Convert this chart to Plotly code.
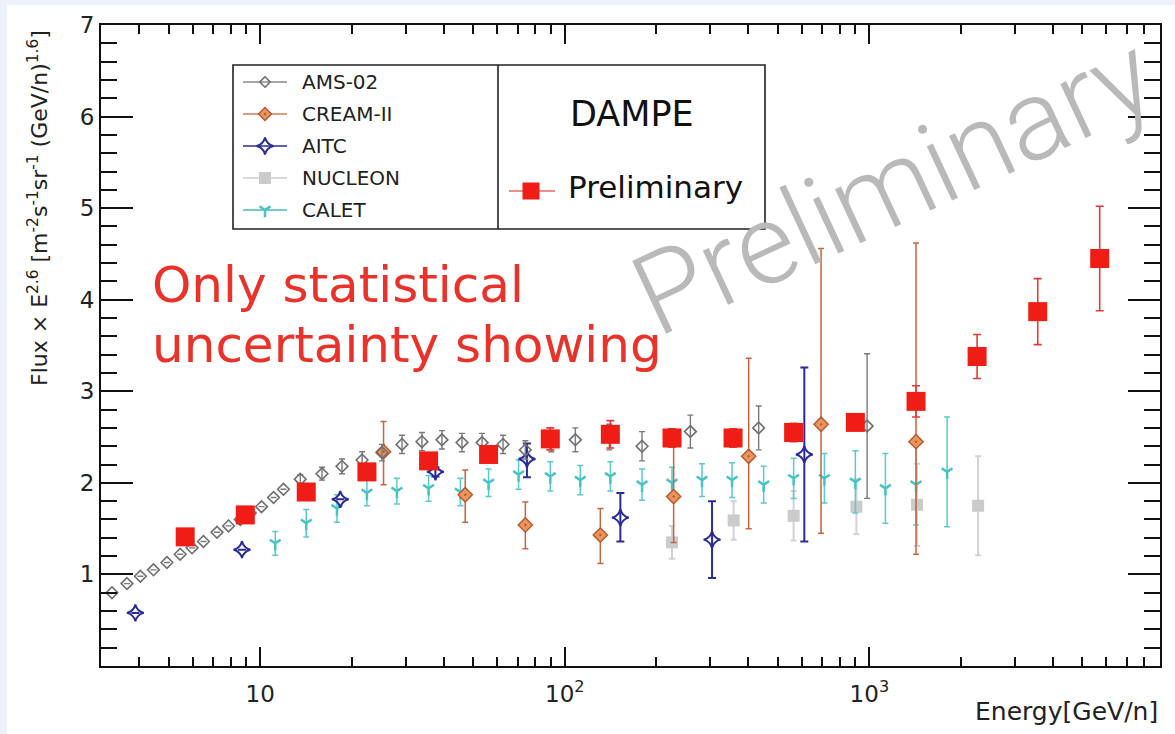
import math
import plotly.graph_objects as go

# ---------------- data ----------------
ams_e = [3.26, 3.65, 4.04, 4.46, 4.94, 5.46, 5.97, 6.51, 7.21, 7.87, 8.60, 9.27, 10.1, 11.06,
         11.92, 13.53, 15.95, 18.55, 21.6, 25.1, 29.2, 33.96, 39.5, 45.96, 53.5, 62.7, 74.2,
         90.3, 108.3, 140.0, 179.3, 258.4, 433.0, 983.0]
ams_f = [0.80, 0.90, 0.98, 1.05, 1.13, 1.22, 1.29, 1.36, 1.46, 1.53, 1.60, 1.67, 1.74, 1.84,
         1.93, 2.04, 2.10, 2.18, 2.25, 2.33, 2.42, 2.45, 2.47, 2.44, 2.44, 2.42, 2.36,
         2.45, 2.47, 2.50, 2.40, 2.56, 2.60, 2.62]
# None = error bar hidden inside the marker in the reference
ams_err = [None, None, None, None, None, None, None, None, None, None, None, None, None, None,
           None, 0.05, 0.07, 0.08, 0.09, 0.09, 0.10, 0.10, 0.10, 0.10, 0.10, 0.10, 0.10,
           0.11, 0.13, 0.14, 0.16, 0.18, 0.24, 0.79]

cream_e = [25.4, 47.1, 74.2, 130.8, 227.7, 401.6, 694.0, 1423.0]
cream_f = [2.34, 1.87, 1.54, 1.43, 1.85, 2.29, 2.64, 2.45]
cream_up = [0.33, 0.27, 0.25, 0.29, 0.55, 1.07, 1.92, 2.17]
cream_dn = [0.36, 0.30, 0.26, 0.31, 0.50, 0.79, 1.19, 1.23]

aitc_e = [3.89, 8.71, 18.31, 37.6, 75.1, 152.2, 304.4, 611.5]
aitc_f = [0.58, 1.27, 1.82, 2.12, 2.26, 1.62, 1.38, 2.31]
aitc_up = [None, None, None, 0.05, 0.17, 0.27, 0.42, 0.95]
aitc_dn = [None, None, None, 0.05, 0.20, 0.26, 0.42, 0.95]

nuc_e = [224.9, 358.4, 564.0, 906.5, 1434.0, 2275.0]
nuc_f = [1.35, 1.59, 1.64, 1.74, 1.76, 1.75]
nuc_err = [0.18, 0.21, 0.27, 0.30, 0.45, 0.54]

calet_e = [11.2, 14.16, 17.86, 22.4, 28.1, 35.7, 45.4, 56.2, 70.5, 89.6, 112.4, 141.1,
           179.3, 224.9, 282.2, 354.1, 449.7, 564.0, 711.7, 899.5, 1129.0, 1423.0, 1800.0]
calet_f = [1.34, 1.56, 1.72, 1.89, 1.91, 1.94, 1.90, 2.00, 2.09, 2.07, 2.03, 2.07,
           1.98, 2.00, 2.03, 2.03, 1.98, 2.05, 2.05, 2.01, 1.94, 1.98, 2.12]
calet_err = [0.13, 0.15, 0.15, 0.14, 0.14, 0.14, 0.15, 0.15, 0.16, 0.16, 0.16, 0.16,
             0.17, 0.17, 0.18, 0.19, 0.20, 0.22, 0.27, 0.34, 0.38, 0.44, 0.60]

dampe_e = [5.67, 8.93, 14.16, 22.4, 35.7, 56.2, 89.6, 141.1, 224.9, 356.8, 564.0, 899.5,
           1423.0, 2258.0, 3571.0, 5705.0]
dampe_f = [1.41, 1.65, 1.90, 2.12, 2.24, 2.31, 2.48, 2.53, 2.49, 2.49, 2.55, 2.66,
           2.89, 3.38, 3.87, 4.45]
dampe_err = [0.01, 0.01, 0.02, 0.03, 0.04, 0.05, 0.12, 0.15, 0.10, 0.10, 0.10, 0.08,
             0.17, 0.24, 0.36, 0.57]

x_major = [10, 100, 1000]
x_major_text = ["10", "10<sup>2</sup>", "10<sup>3</sup>"]
x_minor = [3, 4, 5, 6, 7, 8, 9, 20, 30, 40, 50, 60, 70, 80, 90,
           200, 300, 400, 500, 600, 700, 800, 900, 2000, 3000, 4000, 5000, 6000, 7000, 8000, 9000]
y_major = [1, 2, 3, 4, 5, 6, 7]

legend_names = ["AMS-02", "CREAM-II", "AITC", "NUCLEON", "CALET"]

# ---------------- layout geometry (pixels) ----------------
W, H = 1175, 734
L, R, T, B = 101, 1160, 25, 666


def px(x):
    return (x - L) / (R - L)


def py(y):
    return (B - y) / (B - T)


FONT = "DejaVu Sans"

styles = {
    "AMS-02": dict(symbol="diamond-open", size=9, color="#6f6f6f", lw=1.6,
                   ecolor="#7a7a7a", eth=1.4, ew=3, line="#8a8a8a", lsize=8),
    "CREAM-II": dict(symbol="diamond-dot", size=11, color="#e8955e", lw=1.4, lcolor="#b9562c",
                     ecolor="#c8653c", eth=1.5, ew=3, line="#d27b55", lsize=10),
    "AITC": dict(symbol="star-diamond-open", size=12, color="#2b2b98", lw=2,
                 ecolor="#2b2b98", eth=2, ew=4, line="#2b2b98", lsize=12),
    "NUCLEON": dict(symbol="square", size=12, color="#cbcbcb", lw=0,
                    ecolor="#d2d2d2", eth=2, ew=3, line="#cfcfcf", lsize=12),
    "CALET": dict(symbol="y-down-open", size=9, color="#46c4c4", lw=2.5,
                  ecolor="#5ccaca", eth=1.5, ew=3, line="#46b8b8", lsize=9),
}

fig = go.Figure()


def add_series(name, xs, ys, up, dn):
    s = styles[name]
    mk = dict(symbol=s["symbol"], size=s["size"], color=s["color"],
              line=dict(width=s["lw"], color=s.get("lcolor", s["color"])))
    fig.add_trace(go.Scatter(
        x=xs, y=ys, mode="markers", name=name, marker=mk,
        error_y=dict(type="data", symmetric=False, array=up, arrayminus=dn,
                     color=s["ecolor"], thickness=s["eth"], width=s["ew"]),
        showlegend=False))


add_series("NUCLEON", nuc_e, nuc_f, nuc_err, nuc_err)
add_series("CALET", calet_e, calet_f, calet_err, calet_err)
add_series("CREAM-II", cream_e, cream_f, cream_up, cream_dn)
add_series("AITC", aitc_e, aitc_f, aitc_up, aitc_dn)
add_series("AMS-02", ams_e, ams_f, ams_err, ams_err)

fig.add_trace(go.Scatter(
    x=dampe_e, y=dampe_f, mode="markers", name="DAMPE",
    marker=dict(symbol="square", size=19, color="#f01c16", line=dict(width=0)),
    error_y=dict(type="data", array=dampe_err, color="#e23a36", thickness=1.6, width=4),
    showlegend=False))

# ---------------- legend box (drawn on a pixel overlay axis) ----------------
leg_left, leg_right, leg_top, leg_bottom, leg_div = 233, 765, 65, 229, 498
leg_rows = [82, 114, 146, 178, 210]
for name, yc in zip(legend_names, leg_rows):
    s = styles[name]
    fig.add_trace(go.Scatter(x=[243, 287], y=[yc, yc], mode="lines", xaxis="x2", yaxis="y2",
                             line=dict(color=s["line"], width=1.5), showlegend=False,
                             hoverinfo="skip"))
    fig.add_trace(go.Scatter(x=[265], y=[yc], mode="markers", xaxis="x2", yaxis="y2",
                             marker=dict(symbol=s["symbol"], size=s["lsize"], color=s["color"],
                                         line=dict(width=s["lw"], color=s.get("lcolor", s["color"]))),
                             showlegend=False, hoverinfo="skip"))
fig.add_trace(go.Scatter(x=[509, 555], y=[191, 191], mode="lines", xaxis="x2", yaxis="y2",
                         line=dict(color="#e46a66", width=1.5), showlegend=False, hoverinfo="skip"))
fig.add_trace(go.Scatter(x=[531], y=[191], mode="markers", xaxis="x2", yaxis="y2",
                         marker=dict(symbol="square", size=17, color="#f01c16"),
                         showlegend=False, hoverinfo="skip"))

shapes = [
    dict(type="rect", xref="paper", yref="paper", x0=px(7), x1=px(W), y0=py(H), y1=py(5),
         fillcolor="white", line=dict(width=0), layer="below"),
    dict(type="rect", xref="x2", yref="y2", x0=leg_left, x1=leg_right, y0=leg_top, y1=leg_bottom,
         line=dict(color="#222", width=1.6), fillcolor="rgba(0,0,0,0)"),
    dict(type="line", xref="x2", yref="y2", x0=leg_div, x1=leg_div, y0=leg_top, y1=leg_bottom,
         line=dict(color="#222", width=1.6)),
]

annotations = []
for name, yc in zip(legend_names, leg_rows):
    annotations.append(dict(text=name, xref="paper", yref="paper", x=px(300), y=py(yc),
                            xanchor="left", yanchor="middle", showarrow=False,
                            font=dict(family=FONT, size=20, color="#222")))
annotations += [
    dict(text="DAMPE", xref="paper", yref="paper", x=px(632), y=py(114), xanchor="center",
         yanchor="middle", showarrow=False, font=dict(family=FONT, size=35, color="#111")),
    dict(text="Preliminary", xref="paper", yref="paper", x=px(566), y=py(187), xanchor="left",
         yanchor="middle", showarrow=False, font=dict(family=FONT, size=31, color="#111")),
    dict(text="Only statistical", xref="paper", yref="paper", x=px(150), y=py(285),
         xanchor="left", yanchor="middle", showarrow=False,
         font=dict(family=FONT, size=50, color="#e8322a")),
    dict(text="uncertainty showing", xref="paper", yref="paper", x=px(150), y=py(345),
         xanchor="left", yanchor="middle", showarrow=False,
         font=dict(family=FONT, size=50, color="#e8322a")),
    dict(text="Preliminary", xref="paper", yref="paper", x=px(893), y=py(186),
         xanchor="center", yanchor="middle", textangle=-25, showarrow=False,
         font=dict(family="Roboto", size=113, color="#b9b9b9", weight=300)),
    dict(text="Flux × E<sup>2.6</sup> [m<sup>-2</sup>s<sup>-1</sup>sr<sup>-1</sup> (GeV/n)<sup>1.6</sup>]",
         xref="paper", yref="paper", x=px(38), y=py(208), xanchor="center", yanchor="middle",
         textangle=-90, showarrow=False, font=dict(family=FONT, size=22, color="#222")),
    dict(text="Energy[GeV/n]", xref="paper", yref="paper", x=px(1160), y=py(711),
         xanchor="right", yanchor="middle", showarrow=False,
         font=dict(family=FONT, size=25, color="#222")),
]

fig.update_layout(
    width=W, height=H,
    margin=dict(l=L, r=W - R, t=T, b=H - B, pad=0),
    paper_bgcolor="#edf2fa", plot_bgcolor="white",
    font=dict(family=FONT, color="#222"),
    showlegend=False,
    shapes=shapes, annotations=annotations,
    xaxis=dict(type="log", range=[math.log10(3), math.log10(9000)],
               showline=True, linecolor="#111", linewidth=2, mirror="ticks",
               ticks="inside", ticklen=19, tickwidth=1.5, tickcolor="#111",
               tickmode="array", tickvals=x_major, ticktext=x_major_text,
               tickfont=dict(family=FONT, size=23, color="#222"),
               ticklabelstandoff=6,
               showgrid=False, zeroline=False,
               minor=dict(tickmode="array", tickvals=x_minor, ticks="inside", ticklen=9,
                          tickwidth=1.5, tickcolor="#111", showgrid=False)),
    yaxis=dict(range=[0, 7], showline=True, linecolor="#111", linewidth=2, mirror="ticks",
               ticks="inside", ticklen=32, tickwidth=1.5, tickcolor="#111",
               tickmode="array", tickvals=y_major,
               tickfont=dict(family=FONT, size=23, color="#222"),
               showgrid=False, zeroline=False,
               minor=dict(tickmode="linear", tick0=0, dtick=0.2, ticks="inside", ticklen=16,
                          tickwidth=1.5, tickcolor="#111", showgrid=False)),
    xaxis2=dict(overlaying="x", anchor="y2", range=[L, R], visible=False, fixedrange=True),
    yaxis2=dict(overlaying="y", anchor="x2", range=[B, T], visible=False, fixedrange=True),
)

fig.write_html("out.html")
